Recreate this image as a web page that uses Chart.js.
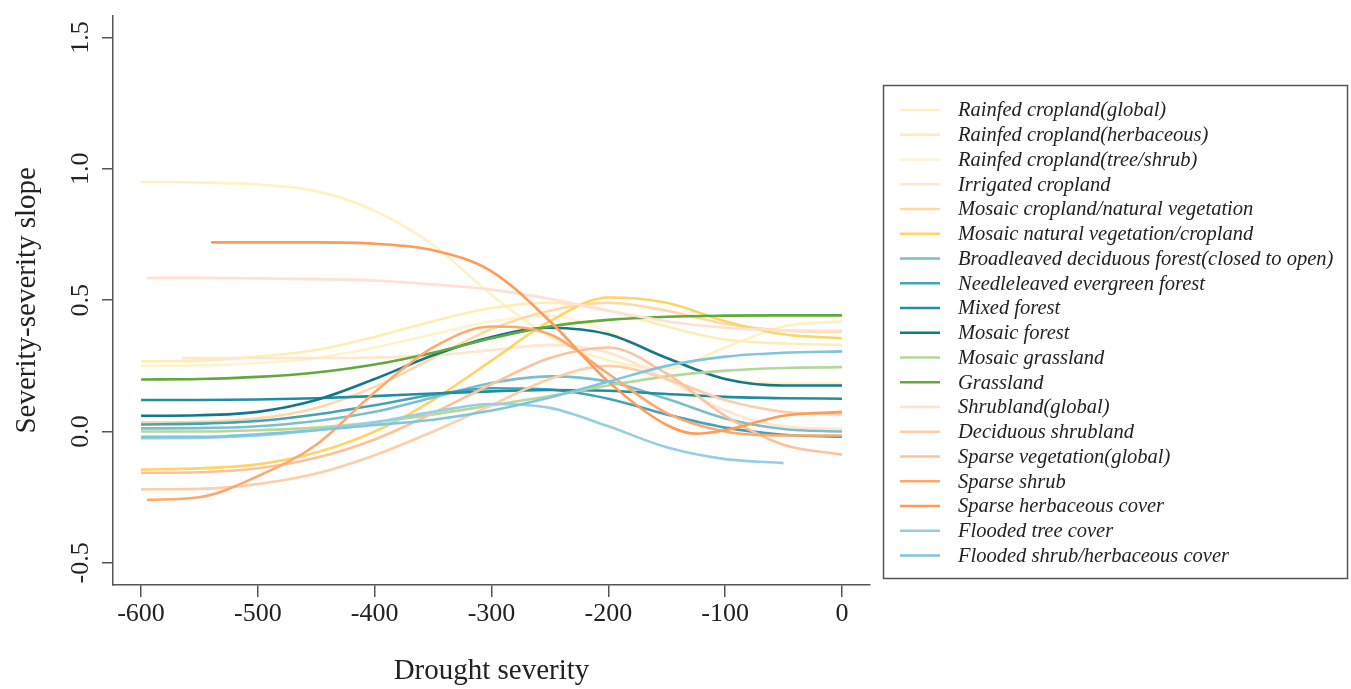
<!DOCTYPE html>
<html>
<head>
<meta charset="utf-8">
<script src="https://cdn.jsdelivr.net/npm/chart.js@4/dist/chart.umd.min.js"></script>
<style>
  html, body { margin: 0; padding: 0; background: #ffffff; }
  #wrap { width: 1351px; height: 689px; position: relative; }
</style>
</head>
<body>
<div id="wrap"><canvas id="c" width="1351" height="689"></canvas></div>
<script>
// ---------- data ----------
const xTickValues = [-600, -500, -400, -300, -200, -100, 0];
const yTickValues = [-0.5, 0.0, 0.5, 1.0, 1.5];

const xGrid        = [-600, -550, -500, -450, -400, -350, -300, -250, -200, -150, -100, -50, 0];
const xIrrigated   = [-565, -500, -450, -400, -350, -300, -250, -200, -150, -100, -50, 0];
const xShrubland   = [-595, -550, -500, -450, -400, -350, -300, -250, -200, -150, -100, -50, 0];
const xSparseShrub = [-595, -550, -500, -450, -400, -350, -300, -250, -200, -150, -100, -50, 0];
const xSparseHerb  = [-540, -500, -450, -400, -350, -300, -250, -200, -150, -125, -100, -50, 0];
const xFloodedTree = [-600, -550, -500, -450, -400, -350, -300, -250, -200, -150, -100, -50];

const yRainfedGlobal   = [0.95, 0.948, 0.94, 0.915, 0.84, 0.71, 0.52, 0.36, 0.27, 0.24, 0.32, 0.40, 0.42];
const yRainfedHerb     = [0.267, 0.27, 0.285, 0.31, 0.36, 0.42, 0.47, 0.49, 0.46, 0.40, 0.35, 0.335, 0.33];
const yRainfedTree     = [0.25, 0.252, 0.26, 0.28, 0.32, 0.37, 0.42, 0.44, 0.38, 0.28, 0.20, 0.185, 0.185];
const yIrrigated       = [0.28, 0.28, 0.28, 0.282, 0.29, 0.31, 0.33, 0.30, 0.20, 0.08, 0.02, 0.01];
const yMosaicCropNat   = [0.035, 0.037, 0.05, 0.09, 0.17, 0.28, 0.39, 0.46, 0.49, 0.46, 0.41, 0.385, 0.38];
const yMosaicNatCrop   = [-0.145, -0.14, -0.125, -0.08, 0.0, 0.12, 0.27, 0.42, 0.51, 0.49, 0.42, 0.37, 0.355];
const yBroadleaved     = [0.012, 0.013, 0.02, 0.04, 0.075, 0.13, 0.185, 0.21, 0.19, 0.125, 0.05, 0.01, 0.0];
const yNeedleleaved    = [0.027, 0.03, 0.04, 0.065, 0.10, 0.14, 0.165, 0.16, 0.125, 0.065, 0.015, -0.012, -0.02];
const yMixedForest     = [0.12, 0.12, 0.122, 0.127, 0.135, 0.145, 0.153, 0.158, 0.155, 0.143, 0.132, 0.127, 0.125];
const yMosaicForest    = [0.06, 0.062, 0.075, 0.12, 0.20, 0.29, 0.36, 0.395, 0.37, 0.28, 0.20, 0.175, 0.175];
const yMosaicGrass     = [0.0, 0.0, 0.005, 0.015, 0.035, 0.065, 0.10, 0.135, 0.175, 0.21, 0.232, 0.242, 0.245];
const yGrassland       = [0.198, 0.20, 0.208, 0.225, 0.255, 0.30, 0.355, 0.40, 0.425, 0.437, 0.441, 0.442, 0.442];
const yShrubland       = [0.585, 0.585, 0.583, 0.58, 0.575, 0.56, 0.54, 0.505, 0.46, 0.42, 0.395, 0.385, 0.383];
const yDeciduousShrub  = [-0.22, -0.218, -0.20, -0.16, -0.09, 0.0, 0.10, 0.20, 0.25, 0.20, 0.12, 0.075, 0.065];
const ySparseVeg       = [-0.157, -0.155, -0.14, -0.10, -0.03, 0.07, 0.18, 0.28, 0.32, 0.22, 0.06, -0.05, -0.088];
const ySparseShrub     = [-0.26, -0.25, -0.17, -0.05, 0.15, 0.32, 0.40, 0.37, 0.22, 0.07, 0.0, -0.015, -0.015];
const ySparseHerb      = [0.72, 0.72, 0.72, 0.715, 0.69, 0.61, 0.42, 0.19, 0.025, -0.008, 0.005, 0.06, 0.075];
const yFloodedTree     = [-0.025, -0.024, -0.015, 0.005, 0.035, 0.075, 0.105, 0.09, 0.02, -0.06, -0.105, -0.12];
const yFloodedShrub    = [-0.02, -0.02, -0.01, 0.005, 0.025, 0.045, 0.08, 0.13, 0.19, 0.25, 0.285, 0.30, 0.305];

const seriesNames = [
  'Rainfed cropland(global)',
  'Rainfed cropland(herbaceous)',
  'Rainfed cropland(tree/shrub)',
  'Irrigated cropland',
  'Mosaic cropland/natural vegetation',
  'Mosaic natural vegetation/cropland',
  'Broadleaved deciduous forest(closed to open)',
  'Needleleaved evergreen forest',
  'Mixed forest',
  'Mosaic forest',
  'Mosaic grassland',
  'Grassland',
  'Shrubland(global)',
  'Deciduous shrubland',
  'Sparse vegetation(global)',
  'Sparse shrub',
  'Sparse herbaceous cover',
  'Flooded tree cover',
  'Flooded shrub/herbaceous cover'
];
const seriesX = [xGrid, xGrid, xGrid, xIrrigated, xGrid, xGrid, xGrid, xGrid, xGrid, xGrid,
                 xGrid, xGrid, xShrubland, xGrid, xGrid, xSparseShrub, xSparseHerb, xFloodedTree, xGrid];
const seriesY = [yRainfedGlobal, yRainfedHerb, yRainfedTree, yIrrigated, yMosaicCropNat, yMosaicNatCrop,
                 yBroadleaved, yNeedleleaved, yMixedForest, yMosaicForest, yMosaicGrass, yGrassland,
                 yShrubland, yDeciduousShrub, ySparseVeg, ySparseShrub, ySparseHerb, yFloodedTree, yFloodedShrub];

// ---------- style ----------
const seriesColors = [
  '#FFF1C2', '#FFEDB4', '#FFF3CC', '#FFE6CC', '#FFD8A4', '#FFD465',
  '#7DBECB', '#45A3B6', '#1F8EA1', '#137889', '#B6D79C', '#62A83A',
  '#FFE0D2', '#FFCDAA', '#FFC19A', '#FFA86C', '#FF9B55', '#96CEE5', '#7FC4E1'
];

const datasets = seriesNames.map((name, i) => ({
  label: name,
  data: seriesX[i].map((x, k) => ({ x: x, y: seriesY[i][k] })),
  borderColor: seriesColors[i],
  backgroundColor: seriesColors[i],
  borderWidth: 2.6,
  pointRadius: 0,
  pointHoverRadius: 0,
  fill: false,
  cubicInterpolationMode: 'monotone',
  order: seriesNames.length - i
}));

const serif = "'Liberation Serif', 'Times New Roman', serif";

const legendBox = {
  id: 'legendBox',
  afterDraw(chart) {
    const ctx = chart.ctx;
    ctx.save();
    ctx.strokeStyle = '#555';
    ctx.lineWidth = 1.5;
    ctx.strokeRect(883.5, 85.5, 464, 493);
    ctx.font = "italic 20.5px " + serif;
    ctx.textBaseline = 'middle';
    ctx.textAlign = 'left';
    chart.data.datasets.forEach((ds, i) => {
      const y = 110 + 24.75 * i;
      ctx.strokeStyle = ds.borderColor;
      ctx.lineWidth = 2.6;
      ctx.beginPath();
      ctx.moveTo(900, y);
      ctx.lineTo(940, y);
      ctx.stroke();
      ctx.fillStyle = '#222';
      ctx.fillText(ds.label, 958, y + 1);
    });
    ctx.restore();
  }
};

new Chart(document.getElementById('c'), {
  type: 'line',
  data: { datasets: datasets },
  plugins: [legendBox],
  options: {
    responsive: false,
    animation: false,
    devicePixelRatio: 1,
    layout: { padding: { left: 0, top: 10, right: 481, bottom: 0 } },
    plugins: { legend: { display: false }, tooltip: { enabled: false } },
    scales: {
      x: {
        type: 'linear',
        min: -624,
        max: 24,
        afterBuildTicks: (s) => { s.ticks = xTickValues.map(v => ({ value: v })); },
        afterFit: (s) => { s.height = 104; },
        grid: { display: true, drawOnChartArea: false, drawTicks: true, tickLength: 12, color: '#555', lineWidth: 1.5 },
        border: { display: true, color: '#555', width: 1.5 },
        ticks: { font: { family: serif, size: 26 }, color: '#222', padding: 2, maxRotation: 0, autoSkip: false,
                 callback: (v) => String(v) },
        title: { display: true, text: 'Drought severity', font: { family: serif, size: 29 }, color: '#222',
                 padding: { top: 0, bottom: 0 } }
      },
      y: {
        type: 'linear',
        min: -0.584,
        max: 1.583,
        afterBuildTicks: (s) => { s.ticks = yTickValues.map(v => ({ value: v })); },
        afterFit: (s) => { s.width = 113; },
        grid: { display: true, drawOnChartArea: false, drawTicks: true, tickLength: 11, color: '#555', lineWidth: 1.5 },
        border: { display: true, color: '#555', width: 1.5 },
        ticks: { font: { family: serif, size: 26 }, color: '#222', padding: 0, minRotation: 90, maxRotation: 90,
                 crossAlign: 'center', autoSkip: false, callback: (v) => Number(v).toFixed(1) },
        title: { display: true, text: 'Severity-severity slope', font: { family: serif, size: 29 }, color: '#222',
                 padding: { top: 10, bottom: 0 } }
      }
    }
  }
});
</script>
</body>
</html>
